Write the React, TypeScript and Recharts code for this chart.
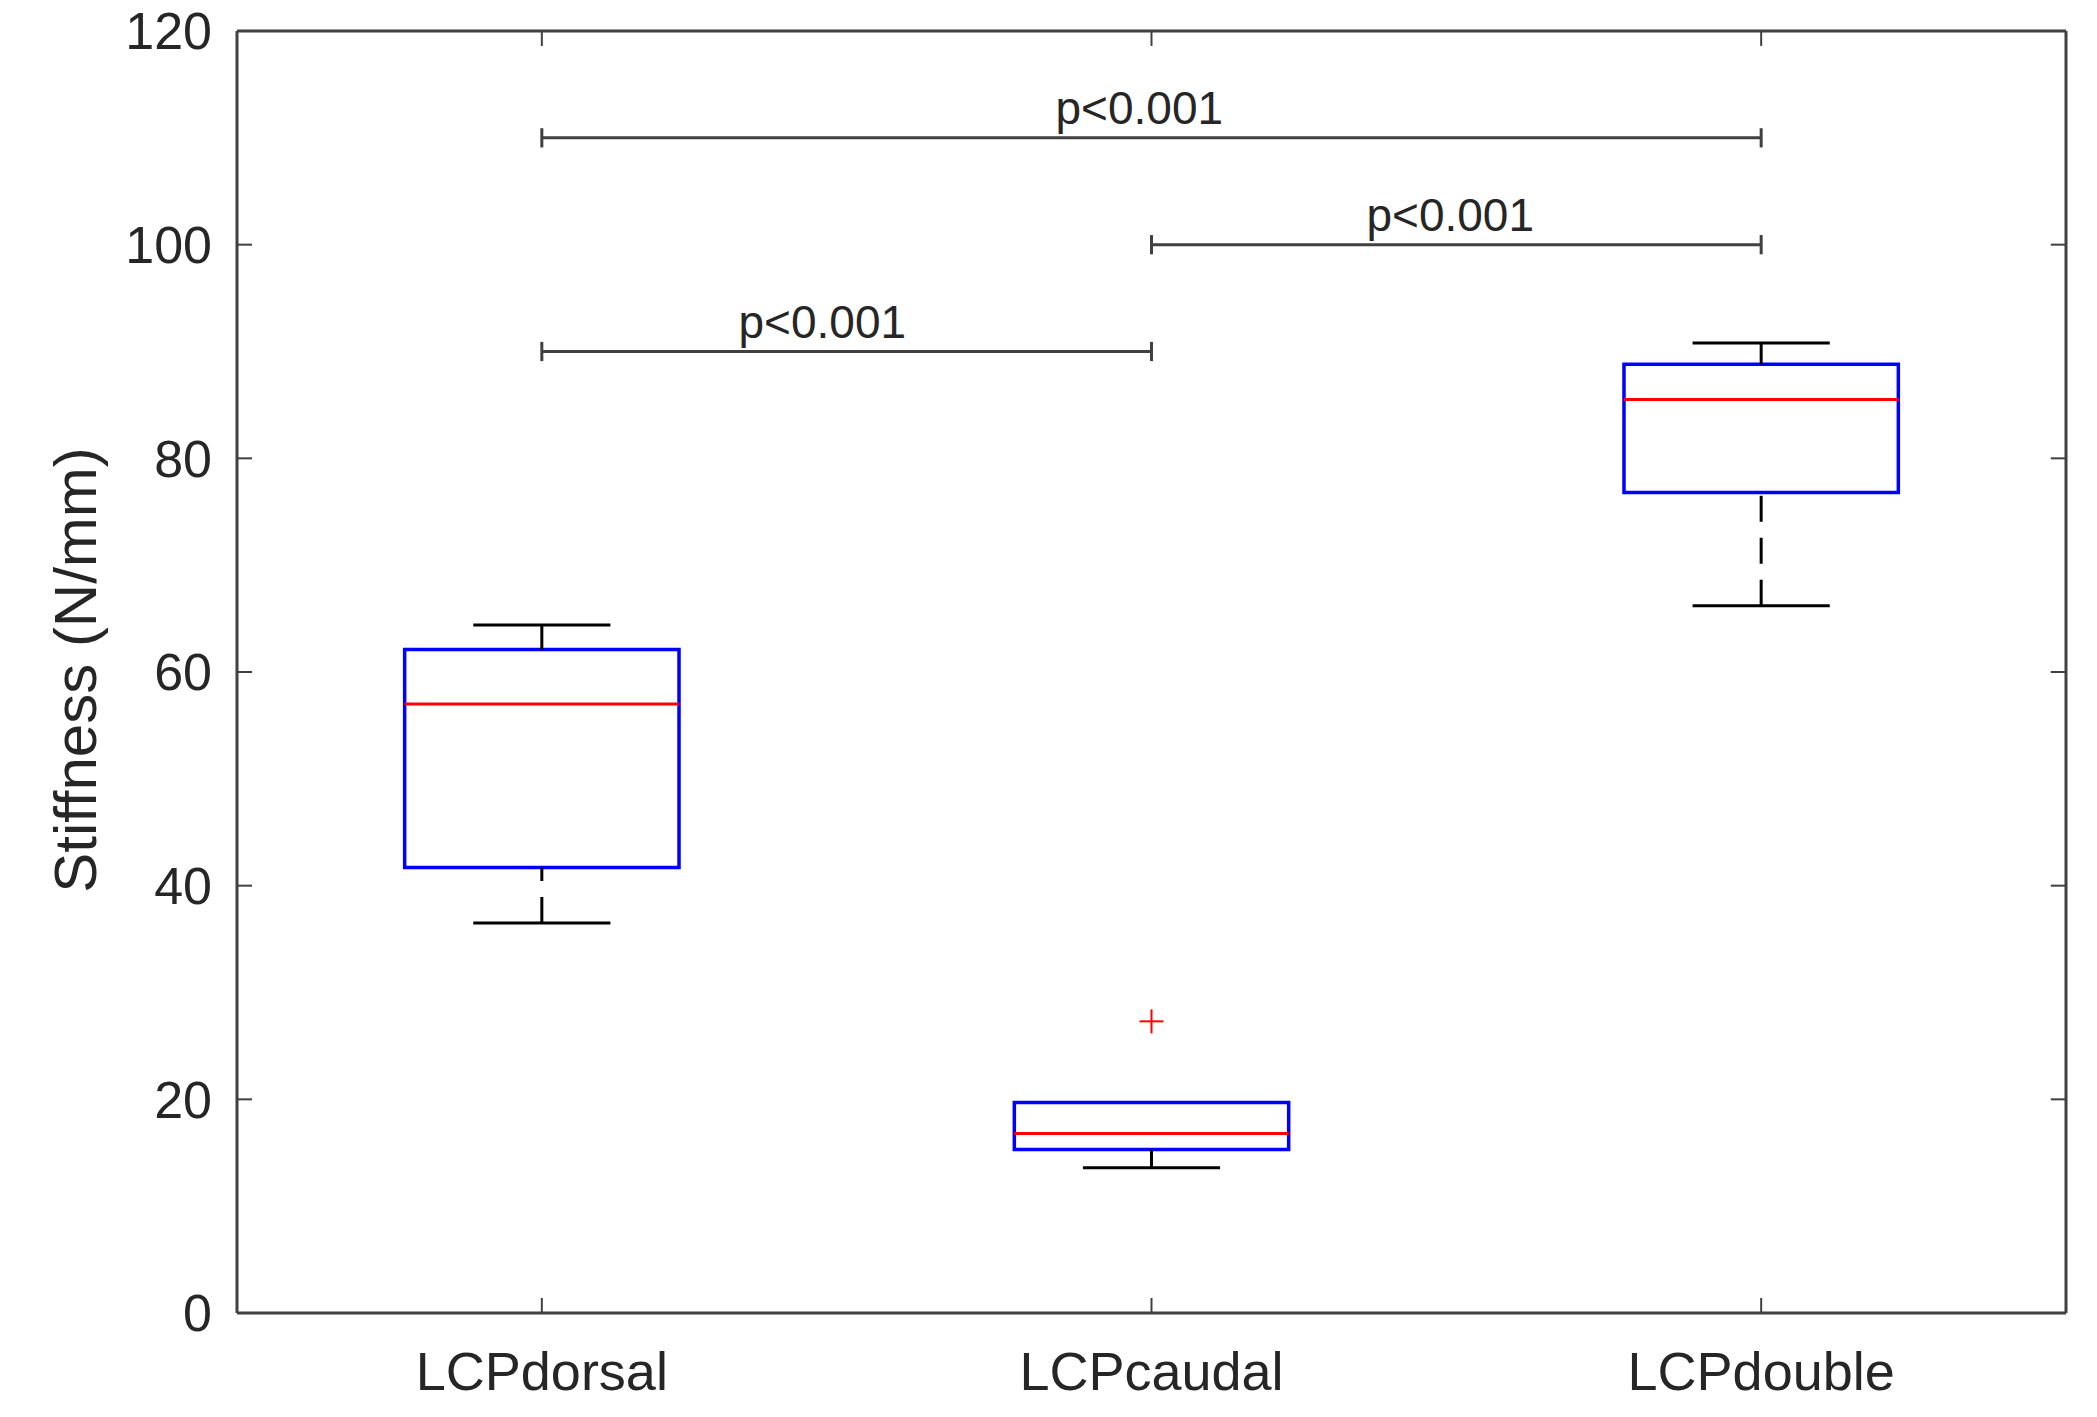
import React from 'react';
import { ComposedChart, XAxis, YAxis, Scatter, ReferenceArea, ReferenceLine } from 'recharts';

// box plot summary per group
const groups = ['LCPdorsal', 'LCPcaudal', 'LCPdouble'];
const groupPos = [1, 2, 3];
const whiskerLow = [36.5, 13.6, 66.2];
const q1 = [41.7, 15.3, 76.8];
const medians = [57.0, 16.8, 85.5];
const q3 = [62.1, 19.7, 88.8];
const whiskerHigh = [64.4, 19.7, 90.8];
const outliers = [{ x: 2, y: 27.3 }];

const yTicks = [0, 20, 40, 60, 80, 100, 120];

// significance brackets
const bracketFrom = [1, 2, 1];
const bracketTo = [3, 3, 2];
const bracketY = [110, 100, 90];
const bracketLabelX = [1.98, 2.49, 1.46];
const pLabel = 'p<0.001';

const FONT = '"Liberation Sans", Arial, sans-serif';
const AXIS = '#404040';
const TEXT = '#262626';
const BOX_HALF = 0.225;
const CAP_HALF = 0.1125;
const X_DOMAIN: [number, number] = [0.5, 3.5];
const Y_DOMAIN: [number, number] = [0, 120];
// inward tick length on the top / right edges, in data units (~15px)
const TOP_TICK = 1.4;
const RIGHT_TICK = 0.025;

const labelPoints = bracketY.map((y, i) => ({ x: bracketLabelX[i], y: y + 1.3 }));

const PLabel = (props: any) => (
  <text x={props.cx} y={props.cy} textAnchor="middle" fontSize={46} fontFamily={FONT} fill={TEXT}>
    {pLabel}
  </text>
);

const Plus = (props: any) => (
  <g stroke="#FF0000" strokeWidth={2}>
    <line x1={props.cx - 12} x2={props.cx + 12} y1={props.cy} y2={props.cy} />
    <line x1={props.cx} x2={props.cx} y1={props.cy - 12} y2={props.cy + 12} />
  </g>
);

export default function App() {
  return (
    <div style={{ position: 'absolute', left: 0, top: 0, width: 2090, height: 1410, background: '#fff' }}>
      <ComposedChart width={2090} height={1410} margin={{ top: 29, right: 22, bottom: 0, left: 137 }}>
        <XAxis
          xAxisId={0}
          type="number"
          dataKey="x"
          domain={X_DOMAIN}
          ticks={groupPos}
          tickFormatter={(v: number) => groups[v - 1]}
          height={97}
          tickSize={-15}
          tickMargin={54}
          axisLine={{ stroke: AXIS, strokeWidth: 3 }}
          tickLine={{ stroke: AXIS, strokeWidth: 2 }}
          tick={{ fontSize: 54, fill: TEXT, fontFamily: FONT }}
        />
        <XAxis
          xAxisId="top"
          orientation="top"
          type="number"
          dataKey="x"
          domain={X_DOMAIN}
          ticks={groupPos}
          height={2}
          tick={false}
          tickLine={false}
          axisLine={{ stroke: AXIS, strokeWidth: 3 }}
        />
        <YAxis
          yAxisId={0}
          type="number"
          domain={Y_DOMAIN}
          ticks={yTicks}
          width={100}
          tickSize={-15}
          tickMargin={40}
          axisLine={{ stroke: AXIS, strokeWidth: 3 }}
          tickLine={{ stroke: AXIS, strokeWidth: 2 }}
          tick={{ fontSize: 52, fill: TEXT, fontFamily: FONT }}
        />
        <YAxis
          yAxisId="right"
          orientation="right"
          type="number"
          domain={Y_DOMAIN}
          ticks={yTicks}
          width={2}
          tick={false}
          tickLine={false}
          axisLine={{ stroke: AXIS, strokeWidth: 3 }}
        />

        {/* inward ticks on top and right edges of the box */}
        {groupPos.map((p) => (
          <ReferenceLine key={`tt${p}`} ifOverflow="visible"
            segment={[{ x: p, y: Y_DOMAIN[1] }, { x: p, y: Y_DOMAIN[1] - TOP_TICK }]}
            stroke={AXIS} strokeWidth={2} />
        ))}
        {yTicks.map((t) => (
          <ReferenceLine key={`rt${t}`} ifOverflow="visible"
            segment={[{ x: X_DOMAIN[1], y: t }, { x: X_DOMAIN[1] - RIGHT_TICK, y: t }]}
            stroke={AXIS} strokeWidth={2} />
        ))}

        {/* whiskers (dashed) and caps */}
        {groupPos.map((p, i) =>
          whiskerLow[i] < q1[i] ? (
            <ReferenceLine key={`wl${i}`} segment={[{ x: p, y: whiskerLow[i] }, { x: p, y: q1[i] }]}
              stroke="#000" strokeWidth={3} strokeDasharray="26 16" />
          ) : null
        )}
        {groupPos.map((p, i) =>
          whiskerHigh[i] > q3[i] ? (
            <ReferenceLine key={`wh${i}`} segment={[{ x: p, y: whiskerHigh[i] }, { x: p, y: q3[i] }]}
              stroke="#000" strokeWidth={3} strokeDasharray="26 16" />
          ) : null
        )}
        {groupPos.map((p, i) => (
          <ReferenceLine key={`cl${i}`} segment={[{ x: p - CAP_HALF, y: whiskerLow[i] }, { x: p + CAP_HALF, y: whiskerLow[i] }]}
            stroke="#000" strokeWidth={3} />
        ))}
        {groupPos.map((p, i) =>
          whiskerHigh[i] > q3[i] ? (
            <ReferenceLine key={`ch${i}`} segment={[{ x: p - CAP_HALF, y: whiskerHigh[i] }, { x: p + CAP_HALF, y: whiskerHigh[i] }]}
              stroke="#000" strokeWidth={3} />
          ) : null
        )}

        {/* boxes and medians */}
        {groupPos.map((p, i) => (
          <ReferenceArea key={`b${i}`} x1={p - BOX_HALF} x2={p + BOX_HALF} y1={q1[i]} y2={q3[i]}
            fill="none" stroke="#0000FF" strokeWidth={3.5} />
        ))}
        {groupPos.map((p, i) => (
          <ReferenceLine key={`m${i}`} segment={[{ x: p - BOX_HALF, y: medians[i] }, { x: p + BOX_HALF, y: medians[i] }]}
            stroke="#FF0000" strokeWidth={3} />
        ))}

        {/* significance brackets */}
        {bracketY.map((y, i) => (
          <ReferenceLine key={`br${i}`} segment={[{ x: bracketFrom[i], y }, { x: bracketTo[i], y }]}
            stroke={AXIS} strokeWidth={3} />
        ))}
        {bracketY.map((y, i) => (
          <ReferenceLine key={`bl${i}`} segment={[{ x: bracketFrom[i], y: y - 0.9 }, { x: bracketFrom[i], y: y + 0.9 }]}
            stroke={AXIS} strokeWidth={3} />
        ))}
        {bracketY.map((y, i) => (
          <ReferenceLine key={`bc${i}`} segment={[{ x: bracketTo[i], y: y - 0.9 }, { x: bracketTo[i], y: y + 0.9 }]}
            stroke={AXIS} strokeWidth={3} />
        ))}

        <Scatter data={outliers} dataKey="y" shape={<Plus />} isAnimationActive={false} />
        <Scatter data={labelPoints} dataKey="y" shape={<PLabel />} isAnimationActive={false} />
      </ComposedChart>
      <div
        style={{
          position: 'absolute',
          left: 76,
          top: 670,
          transform: 'translate(-50%, -50%) rotate(-90deg)',
          whiteSpace: 'nowrap',
          fontSize: 60,
          fontFamily: FONT,
          color: TEXT,
          lineHeight: 1,
        }}
      >
        Stiffness (N/mm)
      </div>
    </div>
  );
}
